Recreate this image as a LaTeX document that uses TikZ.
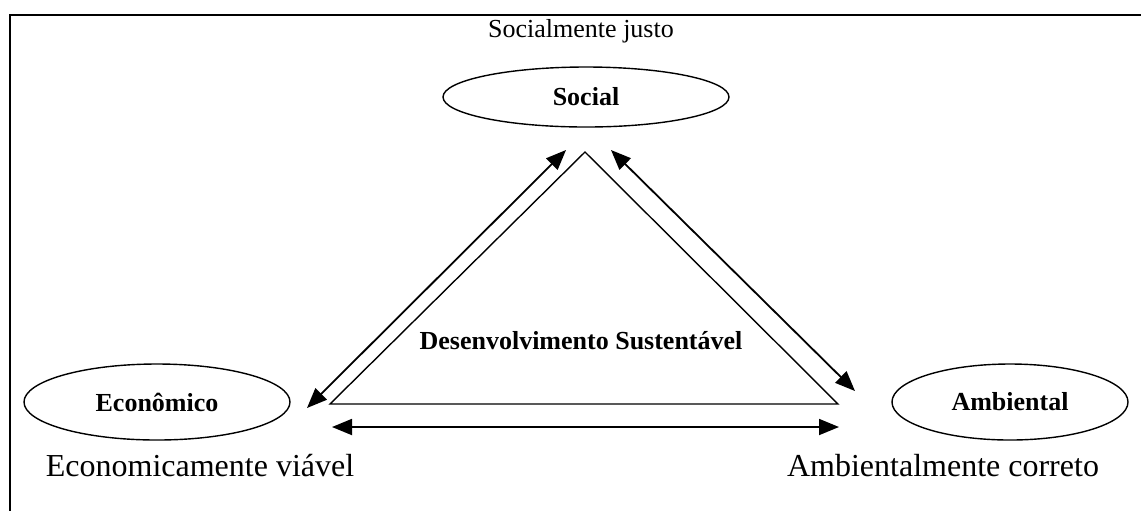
\documentclass[tikz,border=0pt]{standalone}
\usepackage{fontspec}
\setmainfont{Liberation Serif}
\usetikzlibrary{arrows.meta,shapes.geometric}

\begin{document}
\begin{tikzpicture}[x=0.5pt,y=-0.5pt,
  pilar/.style={draw,ellipse,line width=0.7pt,inner sep=0pt,font=\fontsize{13}{15}\selectfont\bfseries},
  rotulo/.style={font=\fontsize{16}{19}\selectfont},
  seta/.style={line width=0.9pt,{Triangle[length=10pt,width=8pt]}-{Triangle[length=10pt,width=8pt]}}]
\useasboundingbox (0,0) rectangle (1141,511);
\draw[line width=1.1pt] (1141,15) -- (10,15) -- (10,511);

% pilares
\node[font=\fontsize{13}{15}\selectfont] (justo) at (581,31) {Socialmente justo};
\node[pilar,minimum width=143pt,minimum height=30pt] (social) at (586,97) {Social};
\node[pilar,minimum width=133pt,minimum height=38pt] (economico) at (157,402) {Econômico};
\node[pilar,minimum width=118pt,minimum height=38pt] (ambiental) at (1010,402) {Ambiental};
\node[rotulo] (viavel) at (200,466) {Economicamente viável};
\node[rotulo] (correto) at (943,466) {Ambientalmente correto};

% triangulo
\coordinate (topo) at (585,152);
\coordinate (esq) at (330,404);
\coordinate (dir) at (838,404);
\draw[line width=0.7pt] (topo) -- (esq) -- (dir) -- cycle;
\node[font=\fontsize{13}{15}\selectfont\bfseries] (ds) at (581,341) {Desenvolvimento Sustentável};

% setas
\coordinate (se1) at (307,408); \coordinate (se2) at (566,150);
\coordinate (sd1) at (611,150); \coordinate (sd2) at (855,391);
\coordinate (sb1) at (332,427); \coordinate (sb2) at (839,427);
\draw[seta] (se1) -- (se2);
\draw[seta] (sd1) -- (sd2);
\draw[seta] (sb1) -- (sb2);
\end{tikzpicture}
\end{document}
